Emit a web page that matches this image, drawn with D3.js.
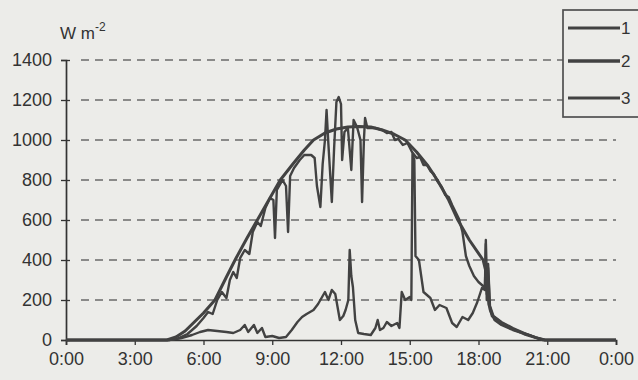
<!DOCTYPE html>
<html>
<head>
<meta charset="utf-8">
<script src="https://cdn.jsdelivr.net/npm/d3@7"></script>
<style>
  body { margin: 0; background: #ecece9; }
  svg { display: block; }
  text { font-family: "Liberation Sans", Arial, sans-serif; fill: #333; }
</style>
</head>
<body>
<script>
// DATA
var yTicks = [0, 200, 400, 600, 800, 1000, 1200, 1400];
var xTicks = [0, 3, 6, 9, 12, 15, 18, 21, 24];
var xLabels = ["0:00", "3:00", "6:00", "9:00", "12:00", "15:00", "18:00", "21:00", "0:00"];
var seriesNames = ["1", "2", "3"];

// curve 1 (smooth clear sky)
var hours1 = [0, 4.4, 4.8, 5.2, 5.6, 6.0, 6.5, 7.0, 7.4, 7.9, 8.35, 8.85, 9.35, 9.9, 10.4, 10.8, 11.3, 11.8,
              12.3, 12.8, 13.3, 13.8, 14.3, 14.8, 15.3, 15.8, 16.2, 16.7, 17.1, 17.6, 18.2, 18.35, 18.45,
              18.6, 19.0, 19.5, 20.0, 20.5, 20.9, 24];
var vals1  = [0, 0, 15, 45, 90, 135, 200, 315, 405, 510, 600, 700, 800, 880, 950, 1000, 1035, 1055,
              1065, 1068, 1065, 1050, 1030, 1000, 940, 870, 800, 700, 600, 500, 400, 330, 180,
              120, 85, 55, 30, 12, 0, 0];

// curve 2 (measured global)
var hours2 = [0, 4.5, 4.9, 5.3, 5.7, 6.0, 6.2, 6.4, 6.6, 6.8, 7.0, 7.15, 7.3, 7.45, 7.6, 7.8, 8.0, 8.15,
              8.35, 8.5, 8.7, 8.9, 9.05, 9.12, 9.2, 9.45, 9.6, 9.69, 9.78, 9.95, 10.2, 10.4, 10.7, 10.85,
              10.95, 11.1, 11.2, 11.3, 11.37, 11.45, 11.6, 11.7, 11.8, 11.9, 12.0, 12.05, 12.15, 12.3,
              12.45, 12.55, 12.7, 12.85, 12.92, 13.0, 13.05, 13.15, 13.5, 13.8, 14.0, 14.2, 14.35, 14.5,
              14.7, 14.9, 15.1, 15.3, 15.45, 15.6, 15.75, 15.9, 16.05, 16.2, 16.4, 16.55, 16.7, 16.85,
              17.0, 17.15, 17.3, 17.45, 17.6, 17.8, 18.0, 18.2, 18.28, 18.32, 18.36, 18.42, 18.5, 18.65,
              19.0, 19.5, 20.0, 20.5, 20.9, 24];
var vals2  = [0, 0, 8, 30, 70, 110, 140, 130, 200, 240, 210, 300, 340, 310, 410, 450, 430, 540,
              590, 570, 660, 710, 700, 510, 750, 800, 770, 540, 820, 860, 900, 925, 925, 910,
              770, 665, 880, 1000, 1150, 980, 690, 960, 1190, 1215, 1180, 900, 1040, 1060,
              850, 1100, 1065, 1000, 690, 1000, 1110, 1060, 1060, 1050, 1035, 1040, 1000, 1005,
              975, 985, 940, 910, 915, 875, 875, 845, 830, 795, 765, 725, 715, 675,
              640, 605, 540, 420, 370, 320, 290, 270, 260, 500, 230, 380, 170, 120,
              90, 60, 35, 12, 0, 0];

// curve 3 (diffuse)
var hours3 = [0, 4.5, 5.0, 5.5, 5.85, 6.2, 6.6, 7.0, 7.3, 7.6, 7.8, 7.95, 8.2, 8.35, 8.55, 8.7, 9.0, 9.3,
              9.6, 9.85, 10.1, 10.3, 10.5, 10.8, 11.0, 11.2, 11.3, 11.45, 11.6, 11.75, 11.95, 12.1, 12.2,
              12.32, 12.38, 12.45, 12.52, 12.62, 12.75, 13.0, 13.3, 13.5, 13.6, 13.7, 13.85, 14.0, 14.2,
              14.45, 14.55, 14.65, 14.8, 15.0, 15.07, 15.12, 15.2, 15.25, 15.4, 15.6, 15.9, 16.1, 16.3,
              16.6, 16.85, 17.05, 17.3, 17.55, 17.75, 17.95, 18.15, 18.28, 18.32, 18.36, 18.42, 18.5,
              18.7, 19.0, 19.5, 20.2, 20.8, 24];
var vals3  = [0, 0, 8, 25, 40, 50, 45, 40, 35, 50, 75, 40, 75, 35, 60, 15, 20, 10,
              15, 50, 90, 115, 130, 150, 180, 220, 240, 200, 250, 230, 100, 120, 150,
              200, 450, 320, 265, 100, 35, 30, 25, 60, 100, 50, 60, 90, 70,
              85, 60, 240, 200, 215, 200, 930, 900, 420, 400, 240, 210, 150, 175,
              160, 85, 65, 115, 100, 135, 190, 260, 250, 480, 200, 360, 150,
              100, 75, 50, 25, 0, 0];

var w = 638;
var h = 380;
var lineColor = "#424242";

var svg = d3.select("body")
  .append("svg")
  .attr("width", w)
  .attr("height", h);

var x = d3.scaleLinear().domain([0, 24]).range([66, 616]);
var y = d3.scaleLinear().domain([0, 1400]).range([340, 60]);

// dashed grid
svg.append("g")
  .selectAll("line")
  .data(yTicks.filter(function(d) { return d > 0; }))
  .enter()
  .append("line")
  .attr("x1", x(0) + 15)
  .attr("x2", x(24))
  .attr("y1", function(d) { return y(d); })
  .attr("y2", function(d) { return y(d); })
  .attr("stroke", "#6a6a6a")
  .attr("stroke-width", 1.5)
  .attr("stroke-dasharray", "8,6");

// y axis
var yAxis = svg.append("g")
  .attr("transform", "translate(" + x(0) + ",0)")
  .call(d3.axisLeft(y).tickValues(yTicks).tickSize(5).tickFormat(d3.format("d")));
yAxis.select(".domain").attr("stroke", "#333").attr("stroke-width", 1.7);
yAxis.selectAll(".tick line").attr("x1", 4).attr("stroke", "#333").attr("stroke-width", 1.3);
yAxis.selectAll("text")
  .attr("x", -14)
  .style("font-size", "18px")
  .attr("fill", "#333");

// x axis
var xAxis = svg.append("g")
  .attr("transform", "translate(0," + y(0) + ")")
  .call(d3.axisBottom(x).tickValues(xTicks).tickSize(5).tickFormat(function(d, i) { return xLabels[i]; }));
xAxis.select(".domain").attr("stroke", "#333").attr("stroke-width", 1.7);
xAxis.selectAll(".tick line").attr("stroke", "#333").attr("stroke-width", 1.3);
xAxis.selectAll("text")
  .attr("y", 12)
  .style("font-size", "18px")
  .attr("fill", "#333");

// unit label
var unit = svg.append("text")
  .attr("x", 60)
  .attr("y", 39)
  .style("font-size", "17px");
unit.append("tspan").text("W m");
unit.append("tspan").attr("dy", -8).style("font-size", "12px").text("-2");

// curves
var line = d3.line()
  .x(function(d) { return x(d[0]); })
  .y(function(d) { return y(d[1]); });

var curves = [
  {t: hours3, v: vals3, wd: 2.4},
  {t: hours2, v: vals2, wd: 2.4},
  {t: hours1, v: vals1, wd: 3}
];

curves.forEach(function(c) {
  svg.append("path")
    .datum(d3.zip(c.t, c.v))
    .attr("d", line)
    .attr("fill", "none")
    .attr("stroke", lineColor)
    .attr("stroke-width", c.wd)
    .attr("stroke-linejoin", "round");
});

// legend
var leg = svg.append("g");
leg.append("rect")
  .attr("x", 563)
  .attr("y", 10)
  .attr("width", 90)
  .attr("height", 107)
  .attr("fill", "#ecece9")
  .attr("stroke", "#505050")
  .attr("stroke-width", 1.7);

var legY = [28, 61, 98];
var legW = [3, 3.4, 2.8];
seriesNames.forEach(function(n, i) {
  leg.append("line")
    .attr("x1", 568)
    .attr("x2", 620)
    .attr("y1", legY[i])
    .attr("y2", legY[i])
    .attr("stroke", lineColor)
    .attr("stroke-width", legW[i]);
  leg.append("text")
    .attr("x", 621)
    .attr("y", legY[i] + 6)
    .style("font-size", "17px")
    .text(n);
});
</script>
</body>
</html>
